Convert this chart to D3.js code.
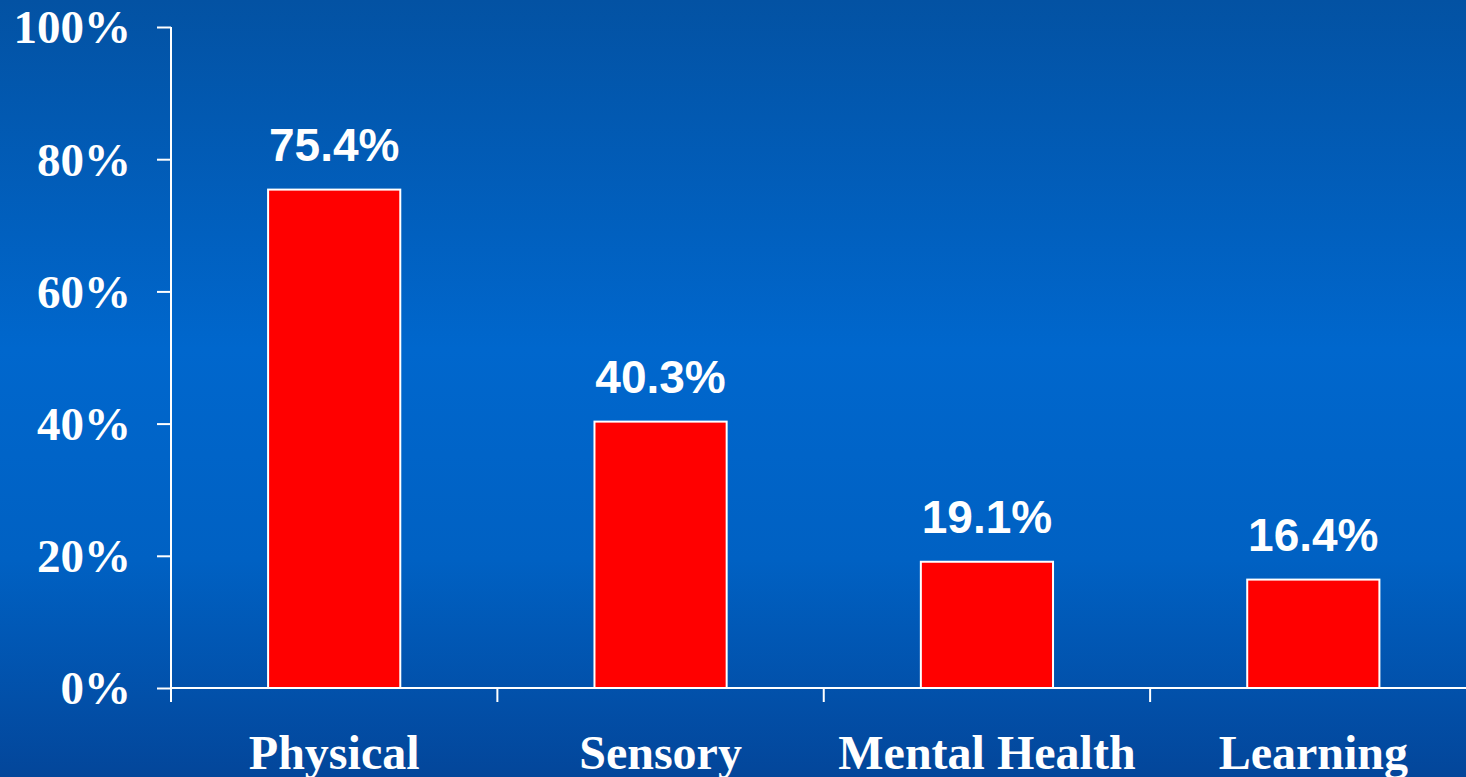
<!DOCTYPE html>
<html>
<head>
<meta charset="utf-8">
<script src="https://cdn.jsdelivr.net/npm/d3@7"></script>
<style>
  html, body { margin: 0; padding: 0; overflow: hidden; }
  svg { display: block; }
</style>
</head>
<body>
<svg id="chart" width="1466" height="777"></svg>
<script>
// Share of respondents by type of disability
const categories = ["Physical", "Sensory", "Mental Health", "Learning"];
const values = [75.4, 40.3, 19.1, 16.4];
const yTicks = [0, 20, 40, 60, 80, 100];

const W = 1466, H = 777;
const svg = d3.select("#chart");

// Background: vertical blue gradient, brightest in the middle
const defs = svg.append("defs");
const grad = defs.append("linearGradient")
  .attr("id", "bg").attr("x1", 0).attr("y1", 0).attr("x2", 0).attr("y2", 1);
[[0, "#0352a3"], [0.45, "#0067cd"], [0.72, "#0061c3"], [1, "#03469a"]]
  .forEach(([o, c]) => grad.append("stop").attr("offset", o).attr("stop-color", c));
svg.append("rect").attr("width", W).attr("height", H).attr("fill", "url(#bg)");

const x0 = 171, x1 = 1476.5, yTop = 27, yBot = 688;

const x = d3.scaleBand().domain(categories).range([x0, x1]).paddingInner(0).paddingOuter(0);
const barFrac = 0.405;
const y = d3.scaleLinear().domain([0, 100]).range([yBot, yTop]);

// Y axis
const yAxis = svg.append("g").attr("transform", `translate(${x0},0)`)
  .call(d3.axisLeft(y).tickValues(yTicks).tickSize(14).tickFormat(d => d + "%"));
yAxis.select(".domain").attr("stroke", "#fff").attr("stroke-width", 2).attr("d", `M0,${yTop}V${yBot}`);
yAxis.selectAll(".tick line").attr("stroke", "#fff").attr("stroke-width", 2);
yAxis.selectAll(".tick text")
  .attr("fill", "#fff")
  .attr("x", -40)
  .attr("dy", "0.34em")
  .style("font-family", "'Liberation Serif', 'Times New Roman', serif")
  .style("font-weight", "bold")
  .style("font-size", "47px");

// X axis (ticks at band boundaries)
const bounds = categories.map(c => x(c)).concat([x1]);
const xg = svg.append("g");
xg.append("line").attr("x1", x0).attr("x2", W).attr("y1", yBot).attr("y2", yBot)
  .attr("stroke", "#fff").attr("stroke-width", 2);
xg.selectAll("line.tk").data(bounds).join("line").attr("class", "tk")
  .attr("x1", d => d).attr("x2", d => d).attr("y1", yBot).attr("y2", yBot + 14)
  .attr("stroke", "#fff").attr("stroke-width", 2);

// Bars
const bw = x.bandwidth() * barFrac;
svg.append("g").selectAll("rect").data(values).join("rect")
  .attr("x", (d, i) => x(categories[i]) + (x.bandwidth() - bw) / 2)
  .attr("y", d => y(d))
  .attr("width", bw)
  .attr("height", d => y(0) - y(d))
  .attr("fill", "#ff0000")
  .attr("stroke", "#fff")
  .attr("stroke-width", 2);

// Value labels
svg.append("g").selectAll("text").data(values).join("text")
  .attr("x", (d, i) => x(categories[i]) + x.bandwidth() / 2)
  .attr("y", d => y(d) - 29)
  .attr("text-anchor", "middle")
  .attr("fill", "#fff")
  .style("font-family", "'Liberation Sans', Arial, sans-serif")
  .style("font-weight", "bold")
  .style("font-size", "46px")
  .text(d => d.toFixed(1) + "%");

// Category labels
svg.append("g").selectAll("text").data(categories).join("text")
  .attr("x", d => x(d) + x.bandwidth() / 2)
  .attr("y", 769)
  .attr("text-anchor", "middle")
  .attr("fill", "#fff")
  .style("font-family", "'Liberation Serif', 'Times New Roman', serif")
  .style("font-weight", "bold")
  .style("font-size", "48px")
  .text(d => d);
</script>
</body>
</html>
